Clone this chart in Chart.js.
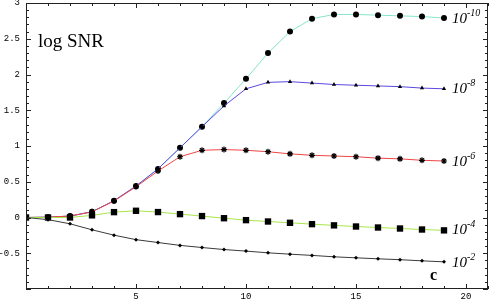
<!DOCTYPE html>
<html>
<head>
<meta charset="utf-8">
<script src="https://cdn.jsdelivr.net/npm/chart.js@4/dist/chart.umd.min.js"></script>
<style>
  html, body { margin: 0; padding: 0; background: #fff; }
  #mycanvas { display: block; }
</style>
</head>
<body>
<canvas id="mycanvas" width="490" height="301"></canvas>
<script>
// c values (x axis)
var cValues = [0,1,2,3,4,5,6,7,8,9,10,11,12,13,14,15,16,17,18,19];

// log SNR for each noise level
var snr10 = [0, 0.005, 0.02, 0.08, 0.235, 0.44, 0.68, 0.975, 1.27, 1.60, 1.94, 2.30, 2.60, 2.78, 2.84, 2.84, 2.83, 2.82, 2.81, 2.79];
var snr8  = [0, 0.005, 0.02, 0.08, 0.235, 0.44, 0.68, 0.975, 1.27, 1.56, 1.80, 1.89, 1.90, 1.88, 1.86, 1.85, 1.84, 1.83, 1.81, 1.80];
var snr6  = [0, 0.005, 0.02, 0.08, 0.23, 0.43, 0.65, 0.85, 0.94, 0.95, 0.94, 0.92, 0.89, 0.87, 0.86, 0.85, 0.83, 0.82, 0.80, 0.79];
var snr4  = [0, 0.0, 0.0, 0.03, 0.075, 0.094, 0.076, 0.047, 0.02, -0.01, -0.037, -0.056, -0.074, -0.093, -0.11, -0.126, -0.14, -0.154, -0.168, -0.18];
var snr2  = [0, -0.03, -0.088, -0.172, -0.247, -0.31, -0.35, -0.39, -0.42, -0.448, -0.47, -0.494, -0.513, -0.53, -0.55, -0.564, -0.578, -0.59, -0.606, -0.62];

var seriesExp = ["-10", "-8", "-6", "-4", "-2"];

var xTickLabels = [5, 10, 15, 20];
var yTickLabels = [-0.5, 0, 0.5, 1, 1.5, 2, 2.5, 3];

function pts(arr) {
  var out = [];
  for (var i in cValues) {
    out.push({x: cValues[i], y: arr[i]});
  }
  return out;
}

function ds(arr, color, style, radius, pbw) {
  return {
    data: pts(arr),
    borderColor: color,
    borderWidth: 1,
    backgroundColor: "#000",
    pointBackgroundColor: "#000",
    pointBorderColor: "#000",
    pointBorderWidth: pbw,
    pointStyle: style,
    pointRadius: radius,
    tension: 0,
    fill: false
  };
}

var frameTicks = {
  id: "frameTicks",
  afterDraw: function(chart) {
    var c = chart.ctx, a = chart.chartArea;
    var xs = chart.scales.x, ys = chart.scales.y;
    c.save();
    c.strokeStyle = "#222";
    c.lineWidth = 1;
    c.strokeRect(Math.round(a.left) + 0.5, Math.round(a.top) + 0.5,
                 Math.round(a.right - a.left) - 1, Math.round(a.bottom - a.top) - 1);
    c.beginPath();
    for (var k = 0; k <= 40; k++) {
      var v = -1 + k * 0.1;
      var py = Math.round(ys.getPixelForValue(v)) + 0.5;
      var len = (k % 5 === 0) ? 5 : 3;
      c.moveTo(a.left, py); c.lineTo(a.left + len, py);
      c.moveTo(a.right, py); c.lineTo(a.right - len, py);
    }
    for (var j = 0; j <= 21; j++) {
      var px = Math.round(xs.getPixelForValue(j)) + 0.5;
      var l2 = (j % 5 === 0) ? 5 : 3;
      c.moveTo(px, a.bottom); c.lineTo(px, a.bottom - l2);
      c.moveTo(px, a.top); c.lineTo(px, a.top + l2);
    }
    c.stroke();

    // axis captions
    c.fillStyle = "#000";
    c.font = '19px "Liberation Serif"';
    c.textBaseline = "alphabetic";
    c.fillText("log SNR", 38, 47);
    c.font = 'bold 16px "Liberation Serif"';
    c.fillText("c", 430, 280);

    // series labels at right end
    var series = [snr10, snr8, snr6, snr4, snr2];
    var offs = [5, 4, 5, 4, 5];
    for (var s = 0; s < series.length; s++) {
      var last = series[s][series[s].length - 1];
      var lx = xs.getPixelForValue(19) + 8;
      var ly = ys.getPixelForValue(last) + offs[s];
      c.font = 'italic 15px "Liberation Serif"';
      c.fillText("10", lx, ly);
      var w = c.measureText("10").width;
      c.font = 'italic 10px "Liberation Serif"';
      c.fillText(seriesExp[s], lx + w, ly - 7);
    }
    c.restore();
  }
};

var ctx = document.getElementById("mycanvas");

var LineGraph = new Chart(ctx, {
  type: "line",
  data: {
    datasets: [
      ds(snr2, "#3a3a3a", "rectRot", 2, 0),
      ds(snr4, "#a8e64a", "rect", 4.5, 0),
      ds(snr6, "#f04545", "star", 3, 1.2),
      ds(snr8, "#5a48e0", "triangle", 2.5, 0),
      ds(snr10, "#86e4cc", "circle", 3, 0)
    ]
  },
  plugins: [frameTicks],
  options: {
    responsive: false,
    animation: false,
    devicePixelRatio: 1,
    layout: { padding: { top: 3, right: 2, left: 0, bottom: 0 }, autoPadding: false },
    plugins: { legend: { display: false }, tooltip: { enabled: false } },
    scales: {
      x: {
        type: "linear",
        min: 0,
        max: 21,
        afterFit: function(scale) {
          scale.height = 12;
          scale.paddingLeft = 0; scale.paddingRight = 0;
        },
        grid: { display: false, drawTicks: false },
        border: { display: false },
        ticks: {
          stepSize: 5,
          autoSkip: false,
          maxRotation: 0,
          padding: 2,
          color: "#000",
          font: { family: "Liberation Mono", size: 9 },
          callback: function(v) { return xTickLabels.indexOf(v) >= 0 ? String(v) : ""; }
        }
      },
      y: {
        type: "linear",
        min: -1,
        max: 3,
        afterFit: function(scale) {
          scale.width = 26;
          scale.paddingTop = 0; scale.paddingBottom = 0;
        },
        grid: { display: false, drawTicks: false },
        border: { display: false },
        ticks: {
          stepSize: 0.5,
          padding: 6,
          color: "#000",
          font: { family: "Liberation Mono", size: 9 },
          callback: function(v) { return yTickLabels.indexOf(v) >= 0 ? String(v) : ""; }
        }
      }
    }
  }
});
</script>
</body>
</html>
